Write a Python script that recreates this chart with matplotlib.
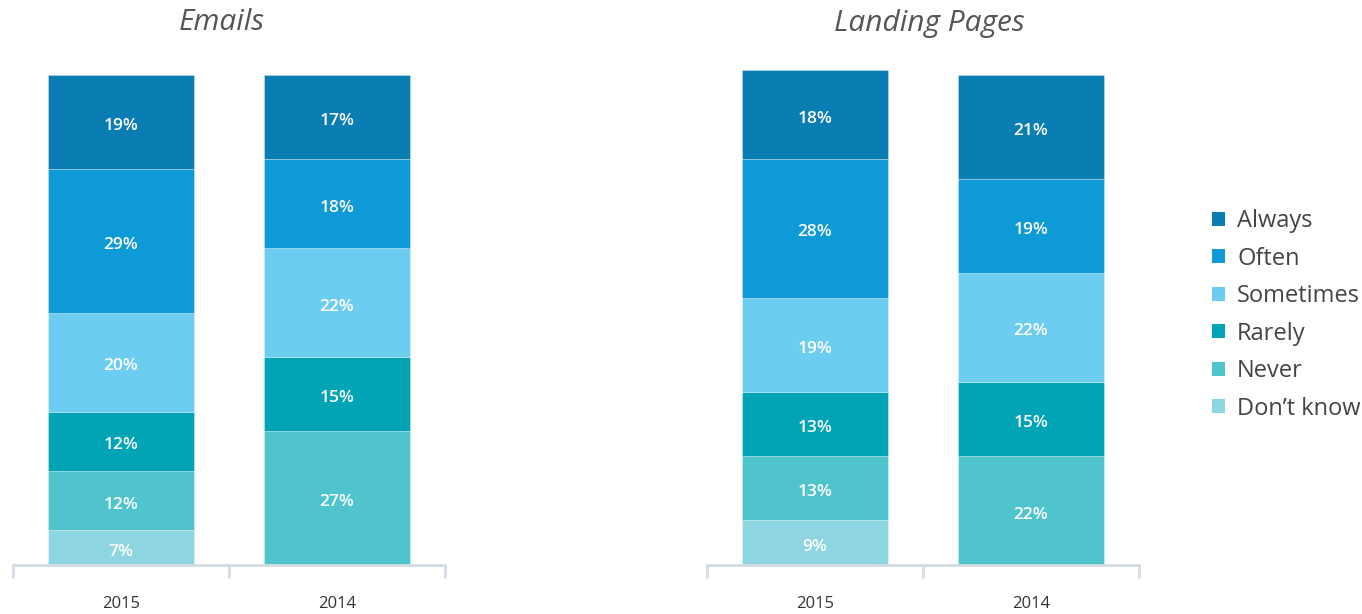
import matplotlib
matplotlib.use("Agg")
import matplotlib.pyplot as plt
from matplotlib.patches import Patch
import numpy as np

plt.rcParams['font.family'] = ['Open Sans', 'DejaVu Sans']

years = ["2015", "2014"]
categories = ["Don\u2019t know", "Never", "Rarely", "Sometimes", "Often", "Always"]
colors = ["#8DD5E0", "#50C4CD", "#00A4B5", "#6CCDF1", "#0E99D7", "#0A7DB3"]

emails = {
    "Don\u2019t know": [7, 0],
    "Never": [12, 27],
    "Rarely": [12, 15],
    "Sometimes": [20, 22],
    "Often": [29, 18],
    "Always": [19, 17],
}
landing = {
    "Don\u2019t know": [9, 0],
    "Never": [13, 22],
    "Rarely": [13, 15],
    "Sometimes": [19, 22],
    "Often": [28, 19],
    "Always": [18, 21],
}
titles = ["Emails", "Landing Pages"]

W, H = 1362, 614
fig = plt.figure(figsize=(W / 100, H / 100), dpi=100)

axis_color = "#D3DCE3"
bottom_px = 565
pix_per_pct = 4.95
ax_h = 100 * pix_per_pct

def make_ax(x0, x1):
    return fig.add_axes([x0 / W, (H - bottom_px) / H, (x1 - x0) / W, ax_h / H])

axes = [make_ax(13, 445), make_ax(707, 1139)]
title_x = [0.484, 0.514]

for ax, data, title, tx in zip(axes, [emails, landing], titles, title_x):
    x = np.arange(len(years))
    base = np.zeros(len(years))
    for cat, col in zip(categories, colors):
        vals = np.array(data[cat], dtype=float)
        ax.bar(x, vals, width=0.676, bottom=base, color=col,
               edgecolor=(1, 1, 1, 0.35), linewidth=0.6, zorder=2)
        for xi, v, b in zip(x, vals, base):
            if v > 0:
                ax.text(xi, b + v / 2 - 0.8, f"{int(v)}%", ha="center", va="center",
                        color="white", fontsize=12.5, fontweight="semibold", zorder=3)
        base += vals
    ax.set_xlim(-0.5, 1.5)
    ax.set_ylim(0, 100)
    for s in ["top", "right", "left"]:
        ax.spines[s].set_visible(False)
    ax.spines["bottom"].set_color(axis_color)
    ax.spines["bottom"].set_linewidth(2)
    ax.set_yticks([])
    ax.set_xticks([-0.5, 0.5, 1.5])
    ax.set_xticklabels([])
    ax.tick_params(axis="x", which="major", length=9, width=2, color=axis_color)
    ax.set_xticks(x, minor=True)
    ax.set_xticklabels(years, minor=True)
    ax.tick_params(axis="x", which="minor", length=0, pad=22, labelsize=12,
                   labelcolor="#333333")
    ax.text(tx, (565 - 23) / ax_h, title, transform=ax.transAxes, ha="center",
            va="center", fontstyle="italic", fontsize=21.5, color="#555555")

handles = [Patch(facecolor=c, edgecolor="none") for c in reversed(colors)]
labels = list(reversed(categories))
leg = fig.legend(handles, labels, loc="upper left",
                 bbox_to_anchor=(1191 / W, 1 - 188 / H), frameon=False,
                 fontsize=17, labelcolor="#444444", handlelength=0.55,
                 handleheight=0.55, handletextpad=0.5, labelspacing=0.57)

fig.savefig("out.png", dpi=100)
